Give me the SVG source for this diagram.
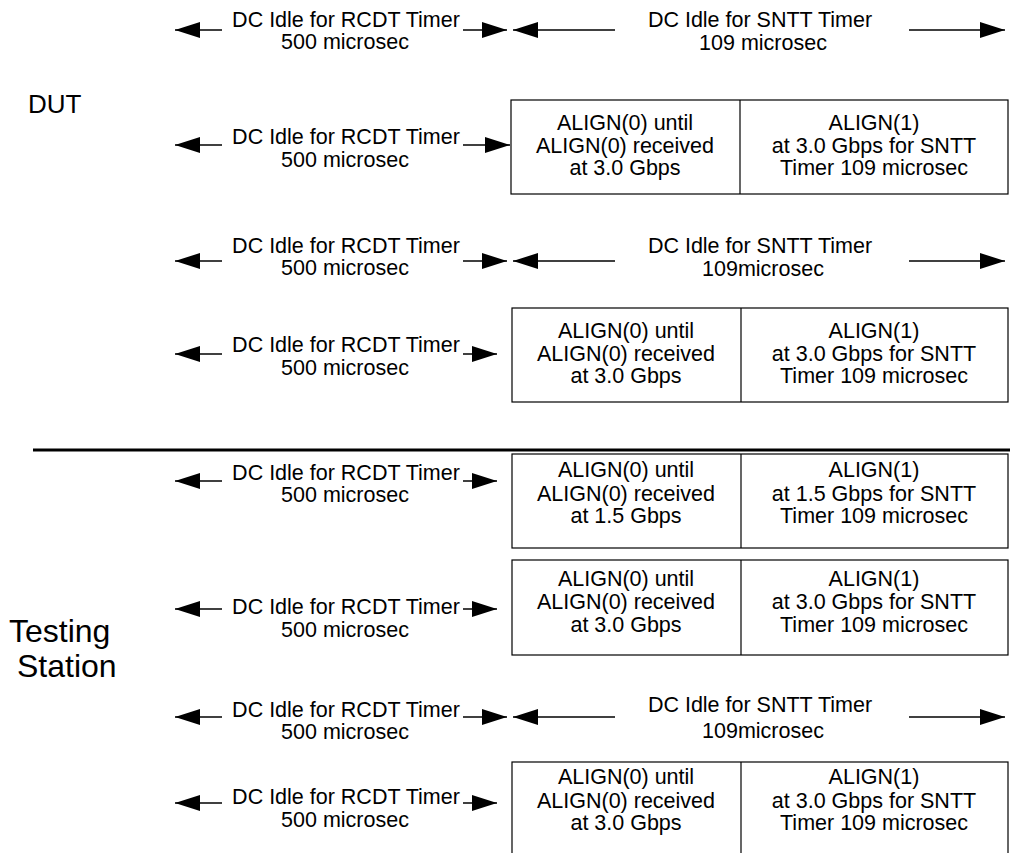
<svg xmlns="http://www.w3.org/2000/svg" width="1010" height="853" viewBox="0 0 1010 853">
<style>
text{font-family:"Liberation Sans",Arial,sans-serif;font-size:21.5px;fill:#000;text-anchor:middle}
.dut{font-size:26px;text-anchor:start}
.ts{font-size:32px;text-anchor:start}
.box{fill:#fff;stroke:#000;stroke-width:1.2}
.div{stroke:#000;stroke-width:1.2}
.arr{stroke:#000;stroke-width:1.3;fill:none;marker-end:url(#ah)}
</style>
<defs>
<marker id="ah" markerUnits="userSpaceOnUse" markerWidth="25" markerHeight="16" refX="25" refY="8" orient="auto" viewBox="0 0 25 16">
<path d="M0,0 L25,8 L0,16 z" fill="#000"/>
</marker>
</defs>
<rect width="1010" height="853" fill="#fff"/>
<g id="label-dut"><text class="dut" x="28" y="113">DUT</text></g>
<g id="label-testing"><text class="ts" x="9" y="642">Testing</text><text class="ts" x="17" y="677">Station</text></g>
<g id="divider"><line x1="33" y1="450" x2="1010" y2="450" stroke="#000" stroke-width="3"/></g>

<g id="connectors">
<line class="arr" x1="222" y1="30" x2="175" y2="30"/>
<line class="arr" x1="463" y1="30" x2="507" y2="30"/>
<line class="arr" x1="615" y1="30" x2="513" y2="30"/>
<line class="arr" x1="909" y1="30" x2="1005" y2="30"/>

<line class="arr" x1="222" y1="145" x2="175" y2="145"/>
<line class="arr" x1="463" y1="145" x2="510" y2="145"/>

<line class="arr" x1="222" y1="261" x2="175" y2="261"/>
<line class="arr" x1="463" y1="261" x2="507" y2="261"/>
<line class="arr" x1="615" y1="261" x2="513" y2="261"/>
<line class="arr" x1="909" y1="261" x2="1005" y2="261"/>

<line class="arr" x1="222" y1="354" x2="175" y2="354"/>
<line class="arr" x1="463" y1="354" x2="497" y2="354"/>

<line class="arr" x1="222" y1="481" x2="175" y2="481"/>
<line class="arr" x1="463" y1="481" x2="497" y2="481"/>

<line class="arr" x1="222" y1="609" x2="175" y2="609"/>
<line class="arr" x1="463" y1="609" x2="497" y2="609"/>

<line class="arr" x1="222" y1="717" x2="175" y2="717"/>
<line class="arr" x1="463" y1="717" x2="507" y2="717"/>
<line class="arr" x1="615" y1="717" x2="513" y2="717"/>
<line class="arr" x1="909" y1="717" x2="1005" y2="717"/>

<line class="arr" x1="222" y1="803" x2="175" y2="803"/>
<line class="arr" x1="463" y1="803" x2="497" y2="803"/>
</g>

<g id="rowA-rcdt"><text x="346" y="27">DC Idle for RCDT Timer</text><text x="345" y="49">500 microsec</text></g>
<g id="rowA-sntt"><text x="760" y="27">DC Idle for SNTT Timer</text><text x="763" y="50">109 microsec</text></g>

<g id="rowB-rcdt"><text x="346" y="144">DC Idle for RCDT Timer</text><text x="345" y="167">500 microsec</text></g>
<g id="rowB-box">
<rect class="box" x="511" y="100" width="497" height="94"/>
<line class="div" x1="740" y1="100" x2="740" y2="194"/>
<text x="625" y="130">ALIGN(0) until</text><text x="625" y="153">ALIGN(0) received</text><text x="625" y="175">at 3.0 Gbps</text>
<text x="874" y="130">ALIGN(1)</text><text x="874" y="153">at 3.0 Gbps for SNTT</text><text x="874" y="175">Timer 109 microsec</text>
</g>

<g id="rowC-rcdt"><text x="346" y="253">DC Idle for RCDT Timer</text><text x="345" y="275">500 microsec</text></g>
<g id="rowC-sntt"><text x="760" y="253">DC Idle for SNTT Timer</text><text x="763" y="276">109microsec</text></g>

<g id="rowD-rcdt"><text x="346" y="352">DC Idle for RCDT Timer</text><text x="345" y="375">500 microsec</text></g>
<g id="rowD-box">
<rect class="box" x="512" y="308" width="496" height="94"/>
<line class="div" x1="741" y1="308" x2="741" y2="402"/>
<text x="626" y="338">ALIGN(0) until</text><text x="626" y="361">ALIGN(0) received</text><text x="626" y="383">at 3.0 Gbps</text>
<text x="874" y="338">ALIGN(1)</text><text x="874" y="361">at 3.0 Gbps for SNTT</text><text x="874" y="383">Timer 109 microsec</text>
</g>

<g id="rowE-rcdt"><text x="346" y="480">DC Idle for RCDT Timer</text><text x="345" y="502">500 microsec</text></g>
<g id="rowE-box">
<rect class="box" x="512" y="454" width="496" height="94"/>
<line class="div" x1="741" y1="454" x2="741" y2="548"/>
<text x="626" y="477">ALIGN(0) until</text><text x="626" y="501">ALIGN(0) received</text><text x="626" y="523">at 1.5 Gbps</text>
<text x="874" y="477">ALIGN(1)</text><text x="874" y="501">at 1.5 Gbps for SNTT</text><text x="874" y="523">Timer 109 microsec</text>
</g>

<g id="rowF-rcdt"><text x="346" y="614">DC Idle for RCDT Timer</text><text x="345" y="637">500 microsec</text></g>
<g id="rowF-box">
<rect class="box" x="512" y="560" width="496" height="95"/>
<line class="div" x1="741" y1="560" x2="741" y2="655"/>
<text x="626" y="586">ALIGN(0) until</text><text x="626" y="609">ALIGN(0) received</text><text x="626" y="632">at 3.0 Gbps</text>
<text x="874" y="586">ALIGN(1)</text><text x="874" y="609">at 3.0 Gbps for SNTT</text><text x="874" y="632">Timer 109 microsec</text>
</g>

<g id="rowG-rcdt"><text x="346" y="717">DC Idle for RCDT Timer</text><text x="345" y="739">500 microsec</text></g>
<g id="rowG-sntt"><text x="760" y="712">DC Idle for SNTT Timer</text><text x="763" y="738">109microsec</text></g>

<g id="rowH-rcdt"><text x="346" y="804">DC Idle for RCDT Timer</text><text x="345" y="827">500 microsec</text></g>
<g id="rowH-box">
<rect class="box" x="512" y="762" width="496" height="100"/>
<line class="div" x1="741" y1="762" x2="741" y2="853"/>
<text x="626" y="784">ALIGN(0) until</text><text x="626" y="808">ALIGN(0) received</text><text x="626" y="830">at 3.0 Gbps</text>
<text x="874" y="784">ALIGN(1)</text><text x="874" y="808">at 3.0 Gbps for SNTT</text><text x="874" y="830">Timer 109 microsec</text>
</g>
</svg>
